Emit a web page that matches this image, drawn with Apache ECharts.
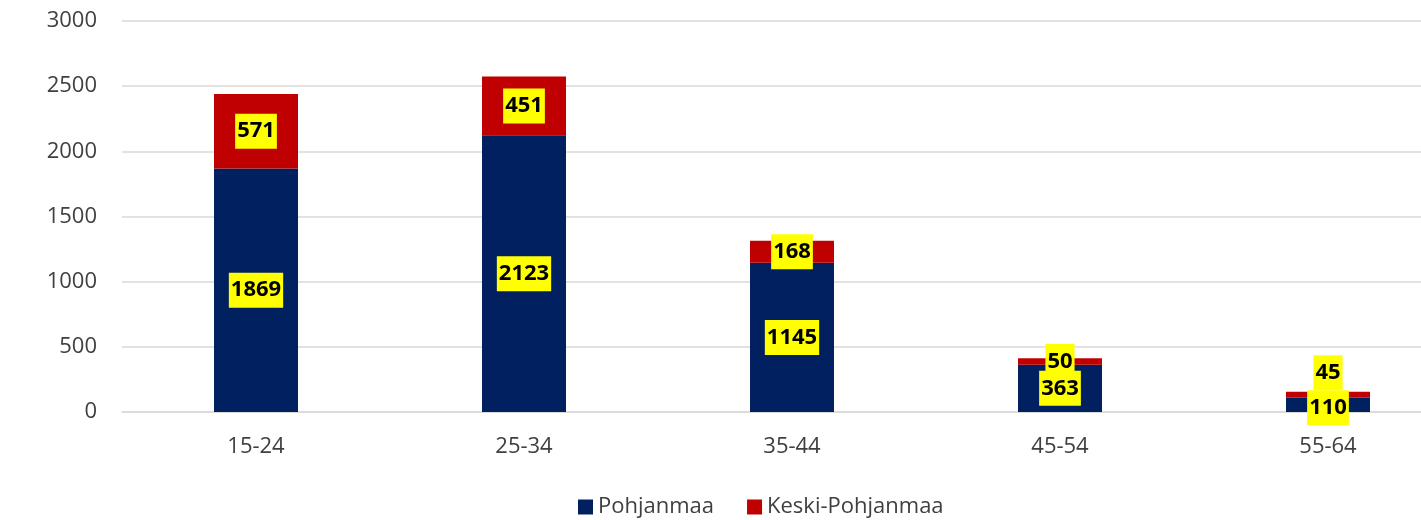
<!DOCTYPE html>
<html>
<head>
<meta charset="utf-8">
<script src="https://cdn.jsdelivr.net/npm/echarts@6/dist/echarts.min.js"></script>
<style>
  html, body { margin: 0; padding: 0; background: #fff; overflow: hidden; }
  /* the reference picture is cropped on the right, so the chart is wider than the window */
  #chart { width: 1462px; height: 520px; }
</style>
</head>
<body>
<div id="chart"></div>
<script>
const ageGroups = ['15-24', '25-34', '35-44', '45-54', '55-64']
const pohjanmaa = [1869, 2123, 1145, 363, 110]
const keskiPohjanmaa = [571, 451, 168, 50, 45]

const chart = echarts.init(document.getElementById('chart'))
const font = 'Open Sans, sans-serif'

const labelStyle = {
  show: true,
  position: 'inside',
  color: '#000',
  fontFamily: font,
  fontWeight: 'bold',
  fontSize: 22,
  lineHeight: 29,
  backgroundColor: '#ffff00',
  padding: [3, 2, 3, 2]
}

// small segments in the last column: labels nudged apart, like Excel does
const blueData = pohjanmaa.map((v, i) => i === 4
  ? { value: v, label: { offset: [0, 3] } }
  : v)
const redData = keskiPohjanmaa.map((v, i) => i === 4
  ? { value: v, label: { offset: [0, -22] } }
  : v)

chart.setOption({
  backgroundColor: '#fff',
  animation: false,
  grid: { left: 122, right: 0, top: 21, bottom: 108 },
  legend: {
    bottom: -3,
    left: 573,
    itemWidth: 15,
    itemHeight: 15,
    itemGap: 33,
    icon: 'rect',
    textStyle: { color: '#404040', fontSize: 22, fontFamily: font },
    data: ['Pohjanmaa', 'Keski-Pohjanmaa']
  },
  xAxis: {
    type: 'category',
    data: ageGroups,
    axisTick: { show: false },
    axisLine: { lineStyle: { color: '#d9d9d9', width: 1.5 } },
    axisLabel: { color: '#404040', fontSize: 22, margin: 24, fontFamily: font }
  },
  yAxis: {
    type: 'value',
    min: 0,
    max: 3000,
    interval: 500,
    axisLine: { show: false },
    axisTick: { show: false },
    axisLabel: {
      color: '#404040', fontSize: 22, margin: 25, fontFamily: font,
      formatter: v => String(v)
    },
    splitLine: { lineStyle: { color: '#d9d9d9', width: 1.5 } }
  },
  series: [
    {
      name: 'Pohjanmaa',
      type: 'bar',
      stack: 'total',
      barWidth: 84,
      data: blueData,
      itemStyle: { color: '#002060' },
      label: labelStyle
    },
    {
      name: 'Keski-Pohjanmaa',
      type: 'bar',
      stack: 'total',
      barWidth: 84,
      data: redData,
      itemStyle: { color: '#c00000' },
      label: labelStyle
    }
  ]
})
</script>
</body>
</html>
